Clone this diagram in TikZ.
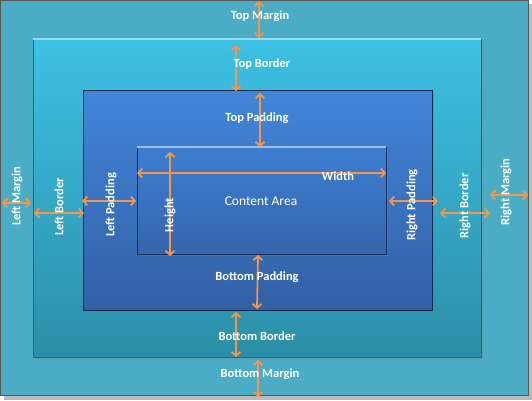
\documentclass[tikz,border=0pt]{standalone}
\usepackage{fontspec}
\setmainfont{Carlito}
\usetikzlibrary{arrows.meta,shadows}
\definecolor{marginblue}{HTML}{4BACC6}
\definecolor{bordertop}{HTML}{3DC1E4}
\definecolor{borderbot}{HTML}{2C8EA8}
\definecolor{padtop}{HTML}{4186D9}
\definecolor{padbot}{HTML}{3360A5}
\definecolor{contop}{HTML}{3D7ED2}
\definecolor{conbot}{HTML}{3565AC}
\definecolor{dimorange}{HTML}{F79646}
\tikzset{
  boxrect/.style={rectangle,inner sep=0pt,outer sep=0pt},
  dimarrow/.style={dimorange,line width=1.8pt,
    {Straight Barb[length=4pt,width=9pt]}-{Straight Barb[length=4pt,width=9pt]}},
  lbl/.style={text=white,font=\fontsize{12.5}{14}\selectfont\bfseries,inner sep=1pt},
}
\begin{document}
\begin{tikzpicture}[x=1pt,y=-1pt]
  \useasboundingbox (0,0) rectangle (532,400);
  % frame and boxes
  \fill[gray!55] (4,4) rectangle (532,400);
  \node[boxrect,draw=gray!70!black,fill=marginblue,minimum width=528pt,minimum height=395pt] (margin) at (264,197.5) {};
  \node[boxrect,draw=borderbot!75!black,top color=bordertop,bottom color=borderbot,
    minimum width=448pt,minimum height=318pt,
    drop shadow={opacity=0.3,shadow xshift=1.5pt,shadow yshift=-1.5pt}] (border) at (257,198) {};
  \draw[bordertop!55!white,line width=1.5pt] (border.north west) -- (border.north east);
  \node[boxrect,draw=padbot!45!black,top color=padtop,bottom color=padbot,
    minimum width=349pt,minimum height=220pt,
    drop shadow={opacity=0.35,shadow xshift=1.5pt,shadow yshift=-1.5pt}] (padding) at (257.5,200) {};
  \node[boxrect,draw=conbot!50!black,top color=contop,bottom color=conbot,
    minimum width=249pt,minimum height=107pt,
    drop shadow={opacity=0.35,shadow xshift=1.5pt,shadow yshift=-1.5pt}] (content) at (261.5,200.5) {};
  \draw[contop!50!white,line width=1.5pt] (content.north west) -- (content.north east);
  % arrow ends
  \coordinate (tm1) at (259,1);   \coordinate (tm2) at (259,38);
  \coordinate (tb1) at (236,45);  \coordinate (tb2) at (236,91);
  \coordinate (tp1) at (260,93);  \coordinate (tp2) at (260,147);
  \coordinate (wd1) at (137,173); \coordinate (wd2) at (386,173);
  \coordinate (ht1) at (170,152); \coordinate (ht2) at (170,256);
  \coordinate (bp1) at (258,255); \coordinate (bp2) at (257,309);
  \coordinate (bb1) at (236,312); \coordinate (bb2) at (236,357);
  \coordinate (bm1) at (258,360); \coordinate (bm2) at (258,397);
  \coordinate (lm1) at (2,203);   \coordinate (lm2) at (31,203);
  \coordinate (lb1) at (34,213);  \coordinate (lb2) at (84,213);
  \coordinate (lp1) at (82,201);  \coordinate (lp2) at (136,201);
  \coordinate (rp1) at (389,201); \coordinate (rp2) at (438,201);
  \coordinate (rb1) at (440,213); \coordinate (rb2) at (490,213);
  \coordinate (rm1) at (490,195); \coordinate (rm2) at (528,195);
  % arrows
  \draw[dimarrow] (tm1) -- (tm2);
  \draw[dimarrow] (tb1) -- (tb2);
  \draw[dimarrow] (tp1) -- (tp2);
  \draw[dimarrow] (wd1) -- (wd2);
  \draw[dimarrow] (ht1) -- (ht2);
  \draw[dimarrow] (bp1) -- (bp2);
  \draw[dimarrow] (bb1) -- (bb2);
  \draw[dimarrow] (bm1) -- (bm2);
  \draw[dimarrow] (lm1) -- (lm2);
  \draw[dimarrow] (lb1) -- (lb2);
  \draw[dimarrow] (lp1) -- (lp2);
  \draw[dimarrow] (rp1) -- (rp2);
  \draw[dimarrow] (rb1) -- (rb2);
  \draw[dimarrow] (rm1) -- (rm2);
  % labels
  \node[lbl] (tmlbl) at (260,16) {Top Margin};
  \node[lbl] (tblbl) at (262,64) {Top Border};
  \node[lbl] (tplbl) at (257,118) {Top Padding};
  \node[lbl] (wdlbl) at (338,176) {Width};
  \node[lbl,rotate=90] (htlbl) at (170,215) {Height};
  \node[text=white,font=\fontsize{13.5}{15}\selectfont] (calbl) at (261,201) {Content Area};
  \node[lbl] (bplbl) at (257,277) {Bottom Padding};
  \node[lbl] (bblbl) at (257,336) {Bottom Border};
  \node[lbl] (bmlbl) at (260,374) {Bottom Margin};
  \node[lbl,rotate=90] (lmlbl) at (17,196) {Left Margin};
  \node[lbl,rotate=90] (lblbl) at (59,207) {Left Border};
  \node[lbl,rotate=90] (lplbl) at (111,205) {Left Padding};
  \node[lbl,rotate=90] (rplbl) at (412,205) {Right Padding};
  \node[lbl,rotate=90] (rblbl) at (465,206) {Right Border};
  \node[lbl,rotate=90] (rmlbl) at (506,192) {Right Margin};
\end{tikzpicture}
\end{document}
